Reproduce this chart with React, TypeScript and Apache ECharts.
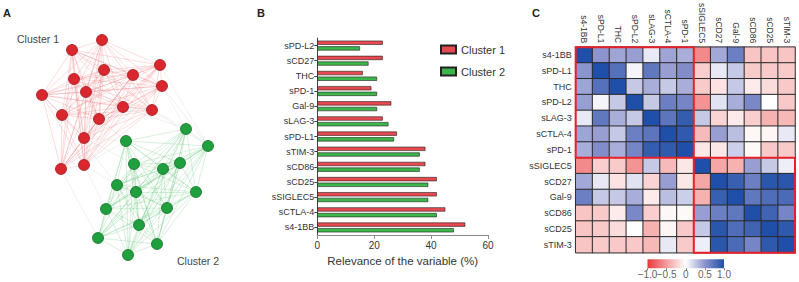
import React, { useEffect, useRef } from "react";
import * as echarts from "echarts";

// ---------- Panel A: network nodes ----------
const redNodeX = [102, 72, 160, 104, 133, 74, 162, 42, 86, 123, 152, 62, 99, 84, 61, 84];
const redNodeY = [40, 50, 65, 70, 75, 79, 86, 95, 92, 107, 110, 115, 119, 138, 169, 165];
const greenNodeX = [186, 208, 126, 134, 163, 180, 117, 136, 196, 106, 167, 139, 98, 157, 128];
const greenNodeY = [129, 146, 141, 164, 169, 163, 185, 192, 192, 209, 208, 225, 238, 244, 255];
// faint links between clusters: [red index, green index]
const crossLinks: [number, number][] = [
  [10, 0], [10, 1], [6, 1], [6, 0], [2, 1], [13, 2], [15, 2], [14, 12], [15, 9],
  [12, 2], [9, 0], [11, 6], [15, 6], [13, 3],
];

// ---------- Panel B: bar chart ----------
const barCategories = ["s4-1BB", "sCTLA-4", "sSIGLEC5", "sCD25", "sCD86", "sTIM-3", "sPD-L1", "sLAG-3", "Gal-9", "sPD-1", "THC", "sCD27", "sPD-L2"];
const cluster1Values = [52, 45, 42, 42, 38, 38, 28, 23, 26, 19, 16, 23, 23];
const cluster2Values = [48, 42, 39, 39, 36, 36, 27, 25, 21, 21, 21, 18, 15];
const barTicks = [0, 20, 40, 60];

// ---------- Panel C: correlation heatmap ----------
const variables = ["s4-1BB", "sPD-L1", "THC", "sPD-L2", "sLAG-3", "sCTLA-4", "sPD-1", "sSIGLEC5", "sCD27", "Gal-9", "sCD86", "sCD25", "sTIM-3"];
const corr: number[][] = [
  [1.0, 0.5, 0.42, 0.45, 0.1, 0.42, 0.38, -0.6, 0.4, 0.65, -0.3, -0.3, -0.3],
  [0.5, 1.0, 0.75, 0.05, 0.7, 0.45, 0.55, -0.25, 0.1, 0.25, -0.27, -0.27, -0.27],
  [0.42, 0.75, 1.0, 0.25, 0.38, 0.25, 0.38, -0.27, -0.15, 0.25, -0.1, -0.18, -0.28],
  [0.45, 0.05, 0.25, 1.0, 0.25, 0.65, 0.6, -0.55, 0.13, 0.38, 0.58, 0.0, -0.28],
  [0.1, 0.7, 0.38, 0.25, 1.0, 0.72, 0.9, 0.25, -0.22, -0.1, -0.25, -0.4, -0.36],
  [0.42, 0.45, 0.25, 0.65, 0.72, 1.0, 0.92, -0.35, 0.45, 0.3, -0.04, -0.05, 0.1],
  [0.38, 0.55, 0.38, 0.6, 0.9, 0.92, 1.0, -0.12, -0.12, 0.22, -0.03, -0.28, -0.27],
  [-0.6, -0.25, -0.27, -0.55, 0.25, -0.35, -0.12, 1.0, -0.45, -0.4, 0.45, 0.25, 0.08],
  [0.4, 0.1, -0.15, 0.13, -0.22, 0.45, -0.12, -0.45, 1.0, 0.88, 0.65, 0.95, 0.95],
  [0.65, 0.25, 0.25, 0.38, -0.1, 0.3, 0.22, -0.4, 0.88, 1.0, 0.7, 0.78, 0.8],
  [-0.3, -0.27, -0.1, 0.58, -0.25, -0.04, -0.03, 0.45, 0.65, 0.7, 1.0, 0.85, 0.6],
  [-0.3, -0.27, -0.18, 0.0, -0.4, -0.05, -0.28, 0.25, 0.95, 0.78, 0.85, 1.0, 0.93],
  [-0.3, -0.27, -0.28, -0.28, -0.36, 0.1, -0.27, 0.08, 0.95, 0.8, 0.6, 0.93, 1.0],
];
const clusterBlocks = [[0, 6], [7, 12]];
const colorbarTicks = [-1, -0.5, 0, 0.5, 1];
const scaleColors = ["#e8383c", "#f49d9d", "#ffffff", "#8c93cd", "#1f4fa8"];

const FONT = 'Arial, "Liberation Sans", Helvetica, sans-serif';

const fmtTick = (v: number) => (v === 0 ? "0" : (v < 0 ? "\u2212" : "") + Math.abs(v).toFixed(1));

export default function App() {
  const ref = useRef<HTMLDivElement>(null);
  useEffect(() => {
    document.body.style.margin = "0";
    if (!ref.current) return;
    const chart = echarts.init(ref.current, undefined, { renderer: "svg" });

    const nodes: any[] = [];
    redNodeX.forEach((x, i) =>
      nodes.push({
        name: "r" + i,
        value: [x, redNodeY[i]],
        itemStyle: { color: "#d9272d", borderColor: "#9a1a1f", borderWidth: 0.8 },
      })
    );
    greenNodeX.forEach((x, i) =>
      nodes.push({
        name: "g" + i,
        value: [x, greenNodeY[i]],
        itemStyle: { color: "#1f9f3d", borderColor: "#156e2a", borderWidth: 0.8 },
      })
    );
    const nRed = redNodeX.length;
    const links: any[] = [];
    for (let i = 0; i < nRed; i++)
      for (let j = i + 1; j < nRed; j++)
        links.push({ source: i, target: j, lineStyle: { color: "#e85a60", opacity: 0.3, width: 0.7 } });
    for (let i = 0; i < greenNodeX.length; i++)
      for (let j = i + 1; j < greenNodeX.length; j++)
        links.push({ source: nRed + i, target: nRed + j, lineStyle: { color: "#45b85a", opacity: 0.3, width: 0.7 } });
    crossLinks.forEach(([r, g]) =>
      links.push({ source: r, target: nRed + g, lineStyle: { color: "#b0b0b0", opacity: 0.3, width: 0.6 } })
    );

    const heatData: number[][] = [];
    corr.forEach((row, r) => row.forEach((v, c) => heatData.push([c, r, v])));

    const gradient = new echarts.graphic.LinearGradient(
      0, 0, 1, 0,
      scaleColors.map((c, i) => ({ offset: i / (scaleColors.length - 1), color: c }))
    );

    const option: any = {
      animation: false,
      textStyle: { fontFamily: FONT },
      grid: [
        { left: 317.3, top: 38, width: 170.7, height: 197 },
        { left: 575.7, top: 39.3, width: 219.3, height: 213.4 },
        { left: 647.5, top: 259.3, width: 76.5, height: 9, show: true, backgroundColor: gradient, borderWidth: 0 },
        { left: 0, top: 0, width: 270, height: 282 },
      ],
      legend: {
        data: ["Cluster 1", "Cluster 2"],
        orient: "vertical",
        left: 435,
        top: 39,
        icon: "rect",
        itemWidth: 15,
        itemHeight: 8,
        itemGap: 11,
        textStyle: { fontSize: 11, color: "#333", fontFamily: FONT },
      },
      xAxis: [
        {
          gridIndex: 0, type: "value", min: barTicks[0], max: barTicks[barTicks.length - 1], interval: 20,
          axisLine: { show: true, lineStyle: { color: "#8a8a8a", width: 1 } },
          axisTick: { show: true, length: 4, lineStyle: { color: "#8a8a8a" } },
          splitLine: { show: false },
          axisLabel: { fontSize: 10, color: "#333", margin: 5, fontFamily: FONT },
          name: "Relevance of the variable (%)",
          nameLocation: "middle",
          nameGap: 14,
          nameTextStyle: { fontSize: 11.5, color: "#333", fontFamily: FONT },
        },
        {
          gridIndex: 1, type: "category", data: variables, position: "top",
          axisLine: { show: false }, axisTick: { show: false }, splitLine: { show: false },
          axisLabel: { rotate: 90, fontSize: 8.5, color: "#333", margin: 4, interval: 0, fontFamily: FONT },
        },
        {
          gridIndex: 2, type: "value", min: -1, max: 1, interval: 0.5, position: "top",
          axisLine: { show: false },
          axisTick: { show: true, inside: true, length: 2, lineStyle: { color: "#555", width: 0.8 } },
          axisLabel: { show: false },
          splitLine: { show: false },
        },
        { gridIndex: 3, type: "value", min: 0, max: 270, show: false },
      ],
      yAxis: [
        {
          gridIndex: 0, type: "category", data: barCategories,
          axisLine: { show: true, lineStyle: { color: "#444", width: 1 } },
          axisTick: { show: true, alignWithLabel: true, length: 3, lineStyle: { color: "#444" } },
          axisLabel: { fontSize: 9, color: "#333", margin: 3, fontFamily: FONT },
        },
        {
          gridIndex: 1, type: "category", data: variables, inverse: true,
          axisLine: { show: false }, axisTick: { show: false }, splitLine: { show: false },
          axisLabel: { fontSize: 9, color: "#333", margin: 4, interval: 0, fontFamily: FONT },
        },
        { gridIndex: 2, type: "value", min: 0, max: 1, show: false },
        { gridIndex: 3, type: "value", min: 0, max: 282, inverse: true, show: false },
      ],
      visualMap: {
        show: false, min: -1, max: 1, seriesIndex: 2, dimension: 2,
        inRange: { color: scaleColors },
      },
      series: [
        {
          name: "Cluster 1", type: "bar", xAxisIndex: 0, yAxisIndex: 0, data: cluster1Values,
          barWidth: 4.2, barGap: "35%",
          itemStyle: { color: "#e8484f", borderColor: "#222", borderWidth: 0.6 },
        },
        {
          name: "Cluster 2", type: "bar", xAxisIndex: 0, yAxisIndex: 0, data: cluster2Values,
          barWidth: 4.2, barGap: "35%",
          itemStyle: { color: "#3cb54b", borderColor: "#222", borderWidth: 0.6 },
        },
        {
          name: "corr", type: "heatmap", xAxisIndex: 1, yAxisIndex: 1, data: heatData,
          itemStyle: { borderColor: "#2a2a2a", borderWidth: 1 },
          emphasis: { disabled: true },
        },
        {
          name: "blocks", type: "custom", xAxisIndex: 1, yAxisIndex: 1, data: clusterBlocks, z: 10,
          renderItem: (params: any, api: any) => {
            const a = api.value(0);
            const b = api.value(1);
            const p0 = api.coord([a, a]);
            const p1 = api.coord([b, b]);
            const s = api.size([1, 1]);
            return {
              type: "rect",
              shape: { x: p0[0] - s[0] / 2, y: p0[1] - s[1] / 2, width: p1[0] - p0[0] + s[0], height: p1[1] - p0[1] + s[1] },
              style: { fill: "none", stroke: "#e8202a", lineWidth: 2 },
            };
          },
        },
        {
          name: "network", type: "graph", coordinateSystem: "cartesian2d", xAxisIndex: 3, yAxisIndex: 3,
          layout: "none", data: nodes, links, symbolSize: 11, silent: true,
          label: { show: false }, emphasis: { disabled: true },
        },
        {
          name: "colorbarLabels", type: "scatter", xAxisIndex: 2, yAxisIndex: 2,
          data: colorbarTicks.map((v) => [v, 0]), symbolSize: 0, silent: true,
          label: {
            show: true, position: "bottom", distance: 1, fontSize: 10, color: "#333", fontFamily: FONT,
            formatter: (p: any) => fmtTick(p.value[0]),
          },
        },
      ],
      graphic: [
        { type: "text", left: 3, top: 7, style: { text: "A", font: `bold 11px ${FONT}`, fill: "#222" } },
        { type: "text", left: 257, top: 7, style: { text: "B", font: `bold 11px ${FONT}`, fill: "#222" } },
        { type: "text", left: 532, top: 7, style: { text: "C", font: `bold 11px ${FONT}`, fill: "#222" } },
        { type: "text", left: 17, top: 33, style: { text: "Cluster 1", font: `10.5px ${FONT}`, fill: "#444" } },
        { type: "text", left: 177, top: 255, style: { text: "Cluster 2", font: `10.5px ${FONT}`, fill: "#444" } },
      ],
    };
    chart.setOption(option);
    return () => chart.dispose();
  }, []);
  return <div ref={ref} style={{ width: 799, height: 282 }} />;
}
